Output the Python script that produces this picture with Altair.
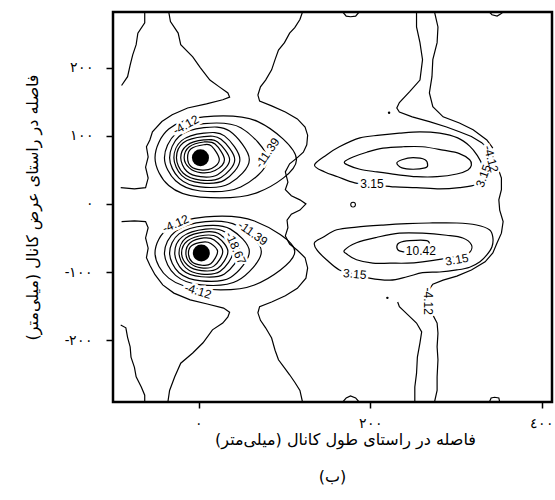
import altair as alt
import pandas as pd

# ---- axis ticks ----
x_ticks = [0, 200, 400]
x_tick_labels = ["۰", "۲۰۰", "٤٠٠"]
y_ticks = [-200, -100, 0, 100, 200]
y_tick_labels = ["-۲۰۰", "-۱۰۰", "۰", "۱۰۰", "۲۰۰"]
x_domain = [-100, 412]
y_domain = [-291, 282]

x_title = "فاصله در راستای طول کانال (میلی\u200cمتر)"
y_title = "فاصله در راستای عرض کانال (میلی\u200cمتر)"
caption = "(ب)"

# ---- closed contour rings (mm) : upper vortex ----
ring_u1 = [(-13, 68), (-9, 81), (6, 87), (15, 85), (24, 65), (15, 52), (2, 50), (-9, 55)]
ring_u2 = [(-17, 68), (-11, 84), (6, 91), (19, 88), (30, 65), (19, 49), (2, 46), (-11, 53)]
ring_u3 = [(-21, 68), (-14, 86), (6, 94), (22, 91), (36, 65), (22, 43), (2, 40), (-14, 48)]
ring_u4 = [(-26, 68), (-18, 90), (6, 99), (26, 95), (42, 65), (26, 39), (2, 35), (-18, 45)]
ring_u5 = [(-29, 68), (-20, 93), (6, 104), (30, 100), (48, 65), (30, 35), (2, 31), (-20, 42)]
ring_u6 = [(-34, 68), (-23, 99), (6, 112), (36, 107), (59, 65), (36, 30), (2, 25), (-23, 38)]
ring_u7 = [(-40, 68), (-27, 103), (6, 118), (49, 112), (80, 65), (49, 25), (2, 19), (-27, 34)]
ring_u8 = [(-51, 68), (-35, 110), (6, 128), (69, 121), (114, 65), (69, 17), (2, 10), (-35, 27)]

# ---- lower vortex ----
ring_l1 = [(-12, -72), (-8, -61), (5, -56), (14, -58), (22, -70), (14, -88), (3, -90), (-8, -85)]
ring_l2 = [(-15, -72), (-10, -57), (6, -50), (18, -53), (28, -70), (18, -91), (3, -94), (-10, -87)]
ring_l3 = [(-20, -72), (-13, -54), (7, -46), (22, -49), (34, -70), (22, -95), (3, -98), (-13, -90)]
ring_l4 = [(-23, -72), (-15, -50), (8, -41), (25, -45), (40, -70), (25, -99), (3, -103), (-15, -94)]
ring_l5 = [(-28, -72), (-19, -48), (8, -37), (30, -41), (48, -70), (30, -103), (3, -107), (-19, -97)]
ring_l6 = [(-34, -72), (-23, -44), (8, -32), (37, -37), (59, -70), (37, -108), (3, -113), (-23, -101)]
ring_l7 = [(-40, -72), (-27, -40), (8, -26), (45, -32), (73, -70), (45, -113), (3, -119), (-27, -105)]
ring_l8 = [(-51, -72), (-35, -35), (8, -19), (65, -25), (112, -70), (65, -119), (3, -125), (-35, -109)]

# ---- right-hand structures ----
loop_u_outer = [(135, 57), (149, 72), (164, 84), (188, 97), (211, 101), (234, 104), (258, 106), (281, 104),
                (302, 97), (316, 85), (325, 71), (332, 54), (335, 41), (325, 29), (304, 24), (281, 22),
                (254, 24), (229, 25), (205, 28), (182, 31), (162, 40), (147, 47)]
loop_u_mid = [(170, 62), (180, 69), (196, 76), (215, 82), (238, 84), (261, 84), (285, 79), (304, 74),
              (316, 65), (318, 57), (314, 50), (301, 44), (278, 40), (254, 40), (231, 43), (208, 47),
              (188, 51), (174, 57)]
loop_u_in = [(231, 60), (237, 65), (250, 68), (264, 65), (267, 57), (264, 53), (250, 51), (237, 53)]
loop_l_outer = [(135, -57), (145, -49), (161, -38), (184, -34), (215, -31), (243, -29), (269, -28),
                (301, -28), (324, -31), (339, -38), (343, -49), (342, -63), (336, -75), (328, -85),
                (316, -93), (301, -97), (281, -100), (261, -101), (243, -107), (223, -112),
                (199, -109), (182, -103), (164, -97), (149, -82), (138, -68)]
loop_l_mid = [(170, -68), (184, -57), (208, -49), (234, -43), (261, -43), (289, -46), (308, -50),
              (318, -60), (316, -71), (304, -76), (283, -81), (261, -85), (243, -87), (223, -87),
              (203, -87), (184, -82), (173, -74)]
loop_l_in = [(231, -63), (234, -57), (246, -54), (266, -54), (269, -62), (264, -69), (246, -71), (234, -69)]

# ---- open contour lines ----
line_left_top = [(-63, 282), (-63, 266), (-71, 251), (-73, 234), (-77, 219), (-80, 204), (-83, 187), (-90, 174)]
line_left_bot = [(-91, -178), (-85, -182), (-83, -196), (-80, -210), (-79, -225), (-75, -240), (-73, -254),
                 (-67, -269), (-63, -281), (-63, -291)]
line_outer_top = [(-35, 282), (-33, 268), (-24, 251), (-21, 234), (-7, 216), (2, 200), (13, 182), (24, 172),
                  (34, 163), (36, 157), (28, 153), (9, 147), (-13, 141), (-31, 131), (-43, 121), (-54, 106),
                  (-57, 94), (-61, 84), (-59, 69), (-62, 54), (-59, 38), (-62, 24), (-75, 22), (-91, 24)]
line_outer_bot = [(-36, -291), (-34, -274), (-28, -254), (-21, -234), (-7, -219), (5, -204), (16, -185),
                  (28, -175), (34, -166), (36, -159), (29, -153), (10, -147), (-10, -141), (-29, -131),
                  (-42, -119), (-51, -104), (-57, -90), (-61, -79), (-59, -65), (-62, -50), (-59, -35),
                  (-62, -26), (-75, -25), (-90, -26)]
line_mid = [(121, 282), (118, 271), (112, 259), (106, 251), (100, 237), (93, 226), (89, 212), (85, 197),
            (78, 182), (72, 172), (69, 160), (71, 151), (85, 144), (101, 135), (115, 125), (124, 113),
            (127, 101), (126, 87), (122, 76), (115, 68), (106, 59), (101, 47), (104, 32), (101, 21),
            (108, 12), (118, 6), (125, 0), (118, -9), (108, -15), (103, -24), (104, -35), (101, -47),
            (106, -59), (115, -68), (124, -79), (127, -94), (125, -109), (115, -124), (101, -135),
            (85, -144), (71, -151), (69, -160), (72, -171), (78, -182), (85, -197), (89, -215),
            (93, -229), (100, -241), (106, -251), (112, -262), (118, -274), (121, -291)]
line_right = [(254, 282), (254, 260), (258, 237), (261, 212), (258, 182), (246, 165), (234, 149), (231, 141),
              (234, 135), (249, 128), (269, 121), (289, 113), (304, 106), (318, 99), (330, 90), (339, 79),
              (345, 65), (349, 53), (353, 38), (353, 21), (350, 6), (351, -9), (355, -26), (353, -43),
              (348, -57), (343, -72), (334, -85), (318, -97), (301, -106), (285, -112), (273, -118),
              (267, -129), (267, -149), (273, -163), (278, -175), (279, -190), (278, -210), (279, -229),
              (278, -254), (278, -274), (275, -291)]
line_right2_top = [(275, 282), (279, 260), (278, 237), (273, 212), (272, 187), (269, 163), (273, 143),
                   (285, 128), (304, 119), (320, 109), (336, 94), (343, 82)]
line_right2_bot = [(252, -291), (252, -269), (254, -249), (255, -225), (258, -204), (260, -188),
                   (254, -175), (244, -163), (234, -151), (232, -144)]
bump_t1 = [(168, 282), (172, 276), (177, 275), (183, 276), (187, 282)]
bump_t2 = [(339, 282), (342, 278), (348, 276), (352, 279), (355, 282)]
bump_b1 = [(168, -291), (172, -285), (177, -282), (183, -285), (187, -291)]
bump_b2 = [(339, -291), (341, -285), (345, -284), (350, -285), (351, -291)]

closed_lines = {
    "u1": ring_u1, "u2": ring_u2, "u3": ring_u3, "u4": ring_u4,
    "u5": ring_u5, "u6": ring_u6, "u7": ring_u7, "u8": ring_u8,
    "l1": ring_l1, "l2": ring_l2, "l3": ring_l3, "l4": ring_l4,
    "l5": ring_l5, "l6": ring_l6, "l7": ring_l7, "l8": ring_l8,
    "uo": loop_u_outer, "um": loop_u_mid, "ui": loop_u_in,
    "lo": loop_l_outer, "lm": loop_l_mid, "li": loop_l_in,
}
open_lines = {
    "lt": line_left_top, "lb": line_left_bot, "ot": line_outer_top, "ob": line_outer_bot,
    "mid": line_mid, "r1": line_right, "r2t": line_right2_top, "r2b": line_right2_bot,
    "bt1": bump_t1, "bt2": bump_t2, "bb1": bump_b1, "bb2": bump_b2,
}

# ---- vortex cores, small marks ----
core_x = [2, 3]
core_y = [68, -72]
dot_x = [222, 220]
dot_y = [134, -138]
ring_small_x = [180]
ring_small_y = [-1]

# ---- contour labels ----
lab_text = ["-4.12", "-11.39", "3.15", "-4.12", "3.15",
            "-4.12", "-11.39", "-18.67", "-4.12", "10.42", "3.15", "3.15", "-4.12"]
lab_x = [-15, 80, 202, 341, 332, -27, 63, 43, -1, 259, 301, 182, 267]
lab_y = [116, 75, 29, 66, 41, -29, -43, -65, -128, -69, -82, -103, -143]
lab_angle = [331, 305, 0, 75, 290, 337, 35, 66, 17, 0, 350, 5, 90]


def to_frame(d):
    rows = []
    for name, pts in d.items():
        for i, (x, y) in enumerate(pts):
            rows.append({"id": name, "k": i, "x": x, "y": y})
    return pd.DataFrame(rows)


def label_expr(vals, labs):
    e = "''"
    for v, l in zip(reversed(vals), reversed(labs)):
        e = f"datum.value == {v} ? '{l}' : {e}"
    return e


xs = alt.Scale(domain=x_domain, nice=False, zero=False)
ys = alt.Scale(domain=y_domain, nice=False, zero=False)

x_axis = alt.Axis(values=x_ticks, labelExpr=label_expr(x_ticks, x_tick_labels), title=x_title,
                  grid=False, domain=False, tickSize=6, tickWidth=1.5, tickColor="black",
                  labelFontSize=14, labelPadding=8, labelColor="black", labelFont="DejaVu Serif",
                  titleFontSize=16, titleFontWeight="normal", titlePadding=1, titleColor="black",
                  titleFont="DejaVu Sans", titleX=232)
y_axis = alt.Axis(values=y_ticks, labelExpr=label_expr(y_ticks, y_tick_labels), title=y_title,
                  grid=False, domain=False, tickSize=7, tickWidth=1.5, tickColor="black",
                  labelFontSize=14, labelPadding=13, labelColor="black", labelFont="DejaVu Serif",
                  titleFontSize=16, titleFontWeight="normal", titlePadding=24, titleColor="black",
                  titleFont="DejaVu Sans")

closed_df = to_frame(closed_lines)
open_df = to_frame(open_lines)

base_closed = alt.Chart(closed_df).mark_line(
    interpolate="cardinal-closed", color="black", strokeWidth=1.2, clip=True
).encode(
    x=alt.X("x:Q", scale=xs, axis=x_axis),
    y=alt.Y("y:Q", scale=ys, axis=y_axis),
    detail="id:N", order="k:Q",
)
base_open = alt.Chart(open_df).mark_line(
    color="black", strokeWidth=1.2, clip=True
).encode(
    x=alt.X("x:Q", scale=xs), y=alt.Y("y:Q", scale=ys),
    detail="id:N", order="k:Q",
)

cores = alt.Chart(pd.DataFrame({"x": core_x, "y": core_y})).mark_point(
    filled=True, color="black", size=290, opacity=1, shape="circle"
).encode(x=alt.X("x:Q", scale=xs), y=alt.Y("y:Q", scale=ys))
dots = alt.Chart(pd.DataFrame({"x": dot_x, "y": dot_y})).mark_point(
    filled=True, color="black", size=6, opacity=1
).encode(x=alt.X("x:Q", scale=xs), y=alt.Y("y:Q", scale=ys))
small_ring = alt.Chart(pd.DataFrame({"x": ring_small_x, "y": ring_small_y})).mark_point(
    filled=False, color="black", size=22, strokeWidth=1.1, opacity=1
).encode(x=alt.X("x:Q", scale=xs), y=alt.Y("y:Q", scale=ys))

lab_df = pd.DataFrame({"t": lab_text, "x": lab_x, "y": lab_y, "a": lab_angle})
halo = alt.Chart(lab_df).mark_text(
    font="Liberation Sans", fontSize=12, stroke="white", strokeWidth=5, color="white"
).encode(x=alt.X("x:Q", scale=xs), y=alt.Y("y:Q", scale=ys), text="t:N",
         angle=alt.Angle("a:Q", scale=None))
labels = alt.Chart(lab_df).mark_text(
    font="Liberation Sans", fontSize=12, color="black"
).encode(x=alt.X("x:Q", scale=xs), y=alt.Y("y:Q", scale=ys), text="t:N",
         angle=alt.Angle("a:Q", scale=None))

chart = alt.layer(base_closed, base_open, cores, dots, small_ring, halo, labels).properties(
    width=439, height=390,
    padding={"left": 113, "top": 12, "right": 3, "bottom": 98},
    autosize=alt.AutoSizeParams(type="none"),
    title=alt.TitleParams(caption, orient="bottom", fontSize=16, fontWeight="normal",
                          font="DejaVu Sans", color="black", offset=22),
).configure(
    background="white",
    view=alt.ViewConfig(stroke="black", strokeWidth=2.5),
)

chart.save("out.html", embed_options={"renderer": "svg", "actions": False})
